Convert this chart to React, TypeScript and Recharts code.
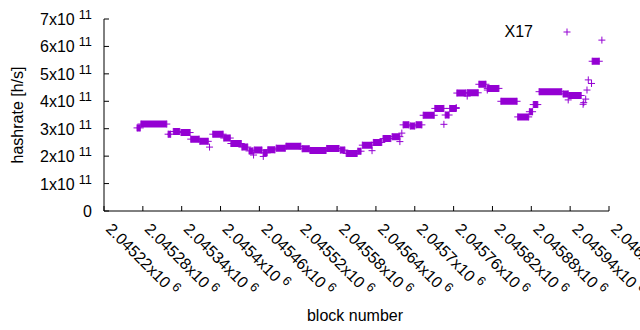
import React from 'react';
import { ComposedChart, Line, Scatter, XAxis, YAxis } from 'recharts';

const seriesName = 'X17';
const xTitle = 'block number';
const yTitle = 'hashrate [h/s]';

const xTicks = [
  2045220, 2045280, 2045340, 2045400, 2045460, 2045520, 2045580,
  2045640, 2045700, 2045760, 2045820, 2045880, 2045940, 2046000,
];
const yTicks = [0, 1e11, 2e11, 3e11, 4e11, 5e11, 6e11, 7e11];

// runs of consecutive blocks sharing one hashrate value: [firstBlock, lastBlock, hashrate]
const runs: [number, number, number][] = [
  [2045271, 2045276, 3.03e11],
  [2045277, 2045317, 3.17e11],
  [2045319, 2045323, 2.80e11],
  [2045327, 2045337, 2.90e11],
  [2045339, 2045353, 2.86e11],
  [2045354, 2045367, 2.62e11],
  [2045368, 2045381, 2.54e11],
  [2045388, 2045404, 2.80e11],
  [2045405, 2045415, 2.66e11],
  [2045416, 2045432, 2.46e11],
  [2045433, 2045442, 2.33e11],
  [2045444, 2045450, 2.19e11],
  [2045452, 2045464, 2.22e11],
  [2045466, 2045472, 2.12e11],
  [2045473, 2045484, 2.23e11],
  [2045486, 2045500, 2.29e11],
  [2045501, 2045524, 2.36e11],
  [2045526, 2045537, 2.27e11],
  [2045538, 2045563, 2.21e11],
  [2045564, 2045583, 2.28e11],
  [2045585, 2045592, 2.22e11],
  [2045594, 2045611, 2.10e11],
  [2045612, 2045617, 2.18e11],
  [2045619, 2045634, 2.40e11],
  [2045636, 2045649, 2.50e11],
  [2045651, 2045663, 2.64e11],
  [2045665, 2045677, 2.71e11],
  [2045682, 2045691, 3.14e11],
  [2045693, 2045700, 3.10e11],
  [2045702, 2045711, 3.14e11],
  [2045713, 2045730, 3.49e11],
  [2045731, 2045745, 3.74e11],
  [2045747, 2045753, 3.50e11],
  [2045754, 2045764, 3.74e11],
  [2045765, 2045779, 4.30e11],
  [2045781, 2045798, 4.31e11],
  [2045799, 2045810, 4.62e11],
  [2045812, 2045830, 4.47e11],
  [2045833, 2045858, 4.00e11],
  [2045859, 2045876, 3.43e11],
  [2045877, 2045882, 3.62e11],
  [2045883, 2045890, 3.88e11],
  [2045892, 2045927, 4.35e11],
  [2045929, 2045937, 4.27e11],
  [2045938, 2045957, 4.21e11],
  [2045974, 2045985, 5.46e11],
];

// isolated blocks: [block, hashrate]
const singles: [number, number][] = [
  [2045383, 2.33e11],
  [2045451, 2.04e11],
  [2045466, 1.99e11],
  [2045634, 2.20e11],
  [2045677, 2.53e11],
  [2045680, 2.84e11],
  [2045745, 3.16e11],
  [2045764, 3.77e11],
  [2045781, 4.19e11],
  [2045812, 4.41e11],
  [2045937, 4.05e11],
  [2045960, 3.89e11],
  [2045961, 3.95e11],
  [2045964, 4.08e11],
  [2045966, 4.41e11],
  [2045968, 4.78e11],
  [2045973, 4.65e11],
  [2045989, 6.23e11],
];

const COLOR = '#9400d3';
const FONT = '"Liberation Sans", Arial, sans-serif';

const lineData = runs.flatMap(([s, e, r]) => [
  { block: s, rate: r },
  { block: e, rate: r },
  { block: e + 0.5, rate: null },
]);
const pointData = [
  ...runs.flatMap(([s, e, r]) => [
    { block: s, rate: r },
    { block: e, rate: r },
  ]),
  ...singles.map(([b, r]) => ({ block: b, rate: r })),
];

const Plus = (props: any) => {
  const { cx, cy } = props;
  if (cx == null || cy == null) return null;
  return (
    <path
      d={`M${cx - 3.5},${cy}H${cx + 3.5}M${cx},${cy - 3.5}V${cy + 3.5}`}
      stroke={COLOR}
      strokeWidth={1}
      fill="none"
    />
  );
};

const fmtX = (v: number) => {
  let s = (v / 1e6).toFixed(5);
  s = s.replace(/0+$/, '').replace(/\.$/, '');
  return s;
};

const XTick = (props: any) => {
  const { x, y, payload } = props;
  const bx = x + 1;
  const by = y + 19;
  return (
    <text
      x={bx}
      y={by}
      transform={`rotate(45 ${bx} ${by})`}
      fontFamily={FONT}
      fontSize={16}
      fill="#000"
      textAnchor="start"
    >
      {fmtX(payload.value)}x10
      <tspan dx={4} dy={-6} fontSize={12.8}>6</tspan>
    </text>
  );
};

const YTick = (props: any) => {
  const { x, y, payload } = props;
  const v = payload.value as number;
  if (v === 0) {
    return (
      <text x={x} y={y + 6} fontFamily={FONT} fontSize={16} fill="#000" textAnchor="end">
        0
      </text>
    );
  }
  return (
    <text x={x} y={y + 6} fontFamily={FONT} fontSize={16} fill="#000" textAnchor="end">
      {Math.round(v / 1e11)}x10
      <tspan dx={4} dy={-6} fontSize={12.8}>11</tspan>
    </text>
  );
};

export default function App() {
  return (
    <div style={{ position: 'absolute', left: 0, top: 0, width: 640, height: 330, background: '#fff' }}>
      <ComposedChart
        width={640}
        height={330}
        margin={{ top: 19, right: 31, bottom: 0, left: 0 }}
      >
        <XAxis
          xAxisId="b"
          dataKey="block"
          type="number"
          domain={[2045220, 2046000]}
          ticks={xTicks}
          allowDataOverflow
          orientation="bottom"
          height={119}
          stroke="#000"
          tickSize={-5}
          tickMargin={5}
          tick={<XTick />}
          interval={0}
        />
        <XAxis
          xAxisId="t"
          dataKey="block"
          type="number"
          domain={[2045220, 2046000]}
          ticks={xTicks}
          allowDataOverflow
          orientation="top"
          height={0}
          stroke="#000"
          tickSize={-5}
          tick={false}
          interval={0}
        />
        <YAxis
          yAxisId="l"
          dataKey="rate"
          type="number"
          domain={[0, 7e11]}
          ticks={yTicks}
          allowDataOverflow
          orientation="left"
          width={104}
          stroke="#000"
          tickSize={-5}
          tickMargin={17}
          tick={<YTick />}
          interval={0}
        />
        <YAxis
          yAxisId="r"
          dataKey="rate"
          type="number"
          domain={[0, 7e11]}
          ticks={yTicks}
          allowDataOverflow
          orientation="right"
          width={0}
          stroke="#000"
          tickSize={-5}
          tick={false}
          interval={0}
        />
        <Line
          xAxisId="b"
          yAxisId="l"
          data={lineData}
          dataKey="rate"
          stroke={COLOR}
          strokeWidth={7}
          strokeLinecap="butt"
          dot={false}
          activeDot={false}
          connectNulls={false}
          isAnimationActive={false}
          type="linear"
        />
        <Scatter
          xAxisId="b"
          yAxisId="l"
          data={pointData}
          dataKey="rate"
          shape={<Plus />}
          isAnimationActive={false}
        />
      </ComposedChart>
      <svg
        width={640}
        height={330}
        style={{ position: 'absolute', left: 0, top: 0, pointerEvents: 'none' }}
      >
        <text x={533} y={37} fontFamily={FONT} fontSize={16} fill="#000" textAnchor="end">
          {seriesName}
        </text>
        <path d="M563.5,32H570.5M567,28.5V35.5" stroke={COLOR} strokeWidth={1} fill="none" />
        <text x={355} y={321} fontFamily={FONT} fontSize={16} fill="#000" textAnchor="middle">
          {xTitle}
        </text>
        <text
          x={23}
          y={115}
          transform="rotate(-90 23 115)"
          fontFamily={FONT}
          fontSize={16}
          fill="#000"
          textAnchor="middle"
        >
          {yTitle}
        </text>
      </svg>
    </div>
  );
}
